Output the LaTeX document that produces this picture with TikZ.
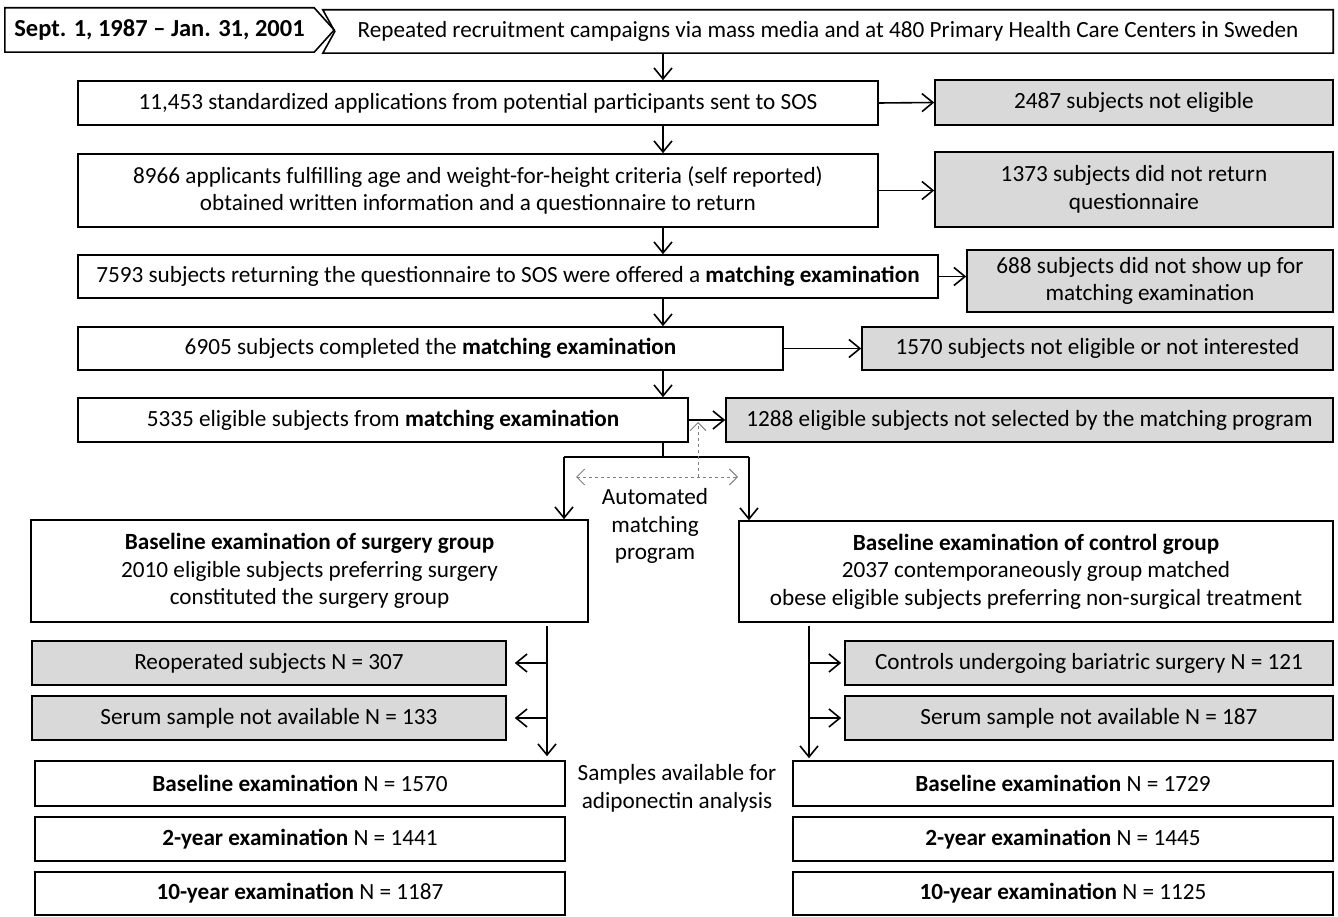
\documentclass[tikz,border=0pt]{standalone}
\usepackage{fontspec}
\setmainfont{Carlito}
\usetikzlibrary{arrows.meta}
\definecolor{boxgray}{RGB}{217,217,217}
\definecolor{dashgray}{RGB}{128,128,128}

\begin{document}
\begin{tikzpicture}[x=1pt, y=-1pt,
    every node/.style={font=\fontsize{23.2}{27.5}\selectfont, inner sep=0pt, align=center},
    wbox/.style={draw, line width=1.6pt, fill=white},
    gbox/.style={draw, line width=1.6pt, fill=boxgray},
    arr/.style={line width=1.6pt, -{Straight Barb[length=11pt,width=18pt,line width=1.6pt]}},
    dasharr/.style={dashgray, dashed, line width=1pt},
    dtip/.tip={Straight Barb[length=8pt,width=16pt,line width=1pt]}]
    \useasboundingbox (0,0) rectangle (1338,917);

    % date and recruitment
    \node[minimum width=309pt, minimum height=44pt, font=\fontsize{24.5}{28}\selectfont\bfseries]
          (date) at (159.5,30) {Sept. 1, 1987 -- Jan. 31, 2001};
    \draw[line width=1.6pt] (date.north west) -- (date.north east) -- ([xshift=20pt]date.east)
          -- (date.south east) -- (date.south west) -- cycle;
    \node[minimum width=1010pt, minimum height=43pt] (rep) at (828,31.5)
          {Repeated recruitment campaigns via mass media and at 480 Primary Health Care Centers in Sweden};
    \draw[line width=1.6pt] (rep.north west) -- (rep.north east) -- (rep.south east)
          -- (rep.south west) -- ([xshift=12pt]rep.west) -- cycle;

    % main column
    \node[wbox, minimum width=800pt, minimum height=44pt] (appl) at (478,103)
          {11,453 standardized applications from potential participants sent to SOS};
    \node[wbox, minimum width=800pt, minimum height=73pt] (crit) at (478,190.5)
          {8966 applicants fulfilling age and weight-for-height criteria (self reported)\\
           obtained written information and a questionnaire to return};
    \node[wbox, minimum width=860pt, minimum height=43pt] (offer) at (508,276.5)
          {7593 subjects returning the questionnaire to SOS were offered a \textbf{matching examination}};
    \node[wbox, minimum width=705pt, minimum height=43pt] (compl) at (430.5,348.5)
          {6905 subjects completed the \textbf{matching examination}};
    \node[wbox, minimum width=610pt, minimum height=44pt] (elig) at (383,420)
          {5335 eligible subjects from \textbf{matching examination}};

    % excluded
    \node[gbox, minimum width=398pt, minimum height=45pt] (noelig) at (1134,102.5)
          {2487 subjects not eligible};
    \node[gbox, minimum width=398pt, minimum height=75pt] (noret) at (1134,189.5)
          {1373 subjects did not return\\questionnaire};
    \node[gbox, minimum width=366pt, minimum height=62pt] (noshow) at (1150,281)
          {688 subjects did not show up for\\matching examination};
    \node[gbox, minimum width=471pt, minimum height=43pt] (noint) at (1097.5,348.5)
          {1570 subjects not eligible or not interested};
    \node[gbox, minimum width=607pt, minimum height=44pt] (nosel) at (1029.5,420)
          {1288 eligible subjects not selected by the matching program};

    % groups
    \node[wbox, minimum width=557pt, minimum height=102pt] (surg) at (309.5,571)
          {\textbf{Baseline examination of surgery group}\\
           2010 eligible subjects preferring surgery\\constituted the surgery group};
    \node[wbox, minimum width=594pt, minimum height=101pt] (ctrl) at (1036,571.5)
          {\textbf{Baseline examination of control group}\\
           2037 contemporaneously group matched\\
           obese eligible subjects preferring non-surgical treatment};
    \node (auto) at (655,526) {Automated\\matching\\program};

    \node[gbox, minimum width=474pt, minimum height=44pt] (reop) at (269,663)
          {Reoperated subjects N = 307};
    \node[gbox, minimum width=474pt, minimum height=44pt] (serS) at (269,718)
          {Serum sample not available N = 133};
    \node[gbox, minimum width=488pt, minimum height=44pt] (bar) at (1089,663)
          {Controls undergoing bariatric surgery N = 121};
    \node[gbox, minimum width=488pt, minimum height=44pt] (serC) at (1089,718)
          {Serum sample not available N = 187};

    \node (samples) at (677,788.5) {Samples available for\\adiponectin analysis};
    \node[wbox, minimum width=530pt, minimum height=45pt] (baseS) at (300,783.5)
          {\textbf{Baseline examination} N = 1570};
    \node[wbox, minimum width=530pt, minimum height=44pt] (twoS) at (300,839)
          {\textbf{2-year examination} N = 1441};
    \node[wbox, minimum width=530pt, minimum height=43pt] (tenS) at (300,893.5)
          {\textbf{10-year examination} N = 1187};
    \node[wbox, minimum width=540pt, minimum height=45pt] (baseC) at (1063,783.5)
          {\textbf{Baseline examination} N = 1729};
    \node[wbox, minimum width=540pt, minimum height=44pt] (twoC) at (1063,839)
          {\textbf{2-year examination} N = 1445};
    \node[wbox, minimum width=540pt, minimum height=43pt] (tenC) at (1063,893.5)
          {\textbf{10-year examination} N = 1125};

    \coordinate (spine) at (663,0);
    \coordinate (downL) at (547,0);
    \coordinate (downR) at (809,0);
    \coordinate (forkL) at (564,457);
    \coordinate (forkR) at (749,457);
    \coordinate (dashL) at (576,477);
    \coordinate (dashR) at (738,477);
    \coordinate (dashM) at (698,477);
    \coordinate (dashU) at (698,422);

    % flow
    \draw[arr] (rep.south -| spine) -- (appl.north -| spine);
    \draw[arr] (appl.south -| spine) -- (crit.north -| spine);
    \draw[arr] (crit.south -| spine) -- (offer.north -| spine);
    \draw[arr] (offer.south -| spine) -- (compl.north -| spine);
    \draw[arr] (compl.south -| spine) -- (elig.north -| spine);
    \draw[arr] (appl.east) -- (noelig.west);
    \draw[arr] (crit.east) -- (crit.east -| noret.west);
    \draw[arr] (offer.east) -- (offer.east -| noshow.west);
    \draw[arr] (compl.east) -- (noint.west);
    \draw[arr] (elig.east) -- (nosel.west);

    % matching program
    \draw[line width=1.6pt] (elig.south -| spine) -- (spine |- forkL);
    \draw[line width=1.6pt] (forkL) -- (forkR);
    \draw[arr] (forkL) -- (forkL |- surg.north);
    \draw[arr] (forkR) -- (forkR |- ctrl.north);
    \draw[dasharr, dtip-dtip] (dashL) -- (dashR);
    \draw[dasharr, -dtip] (dashM) -- (dashU);

    % exclusions after baseline
    \draw[arr, shorten <=3pt, shorten >=4pt] (surg.south -| downL) -- (baseS.north -| downL);
    \draw[arr] (reop.east -| downL) -- ([xshift=8pt]reop.east);
    \draw[arr] (serS.east -| downL) -- ([xshift=8pt]serS.east);
    \draw[arr, shorten <=3pt, shorten >=2pt] (ctrl.south -| downR) -- (baseC.north -| downR);
    \draw[arr] (bar.west -| downR) -- ([xshift=-3pt]bar.west);
    \draw[arr] (serC.west -| downR) -- ([xshift=-3pt]serC.west);
\end{tikzpicture}
\end{document}
